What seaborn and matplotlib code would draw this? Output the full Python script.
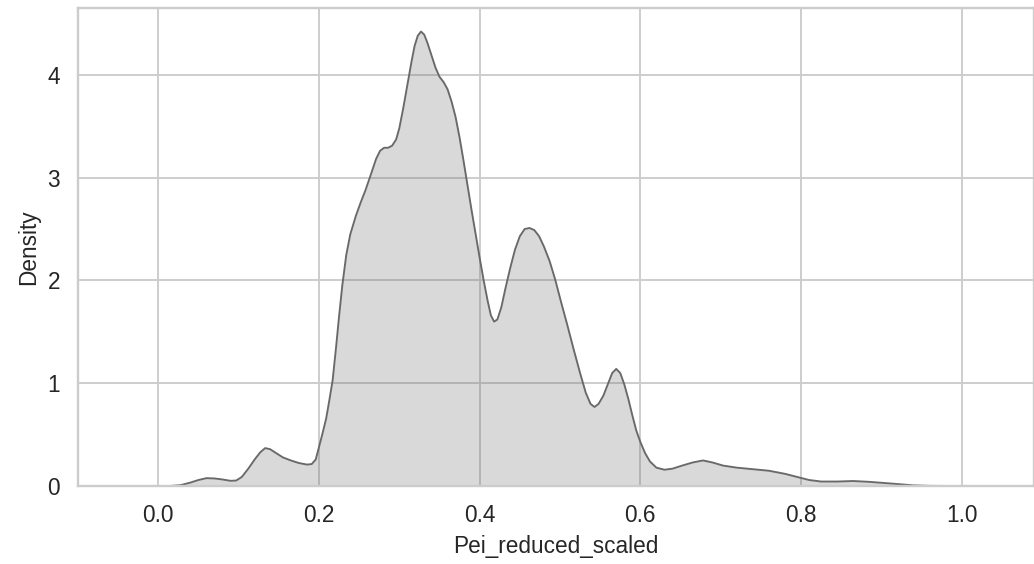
import matplotlib
matplotlib.use("Agg")
import matplotlib.pyplot as plt
import seaborn as sns
import pandas as pd

# density curve (x value, density)
pei_x = [-0.100, 0.000, 0.015, 0.028, 0.040, 0.050, 0.060, 0.070, 0.080, 0.090,
         0.097, 0.104, 0.112, 0.120, 0.127, 0.133, 0.139, 0.147, 0.155, 0.165,
         0.175, 0.185, 0.191, 0.196, 0.200, 0.204, 0.209, 0.213, 0.217, 0.221,
         0.225, 0.229, 0.234, 0.239, 0.246, 0.252, 0.258, 0.265, 0.271, 0.276,
         0.281, 0.286, 0.291, 0.296, 0.300, 0.305, 0.310, 0.315, 0.319, 0.323,
         0.327, 0.331, 0.335, 0.340, 0.345, 0.350, 0.355, 0.360, 0.365, 0.370,
         0.375, 0.380, 0.385, 0.390, 0.395, 0.400, 0.405, 0.410, 0.414, 0.418,
         0.422, 0.427, 0.432, 0.438, 0.444, 0.450, 0.456, 0.462, 0.468, 0.474,
         0.480, 0.487, 0.494, 0.501, 0.509, 0.517, 0.525, 0.532, 0.538, 0.543,
         0.548, 0.554, 0.560, 0.565, 0.570, 0.575, 0.580, 0.585, 0.590, 0.595,
         0.600, 0.606, 0.612, 0.620, 0.630, 0.640, 0.652, 0.665, 0.678, 0.690,
         0.703, 0.720, 0.740, 0.760, 0.780, 0.795, 0.810, 0.825, 0.845, 0.865,
         0.885, 0.905, 0.921, 0.940, 0.960, 1.000, 1.090]
density = [0.000, 0.000, 0.002, 0.010, 0.035, 0.060, 0.078, 0.075, 0.065, 0.052,
           0.055, 0.090, 0.170, 0.260, 0.330, 0.370, 0.360, 0.320, 0.280, 0.250,
           0.225, 0.210, 0.215, 0.260, 0.380, 0.500, 0.660, 0.840, 1.030, 1.330,
           1.650, 1.950, 2.250, 2.450, 2.630, 2.760, 2.880, 3.040, 3.180, 3.260,
           3.290, 3.290, 3.310, 3.370, 3.480, 3.680, 3.900, 4.120, 4.280, 4.380,
           4.420, 4.390, 4.310, 4.190, 4.070, 3.980, 3.930, 3.860, 3.740, 3.590,
           3.390, 3.160, 2.920, 2.680, 2.450, 2.220, 2.000, 1.800, 1.660, 1.600,
           1.620, 1.740, 1.920, 2.120, 2.300, 2.430, 2.500, 2.510, 2.490, 2.430,
           2.330, 2.190, 2.010, 1.800, 1.570, 1.330, 1.100, 0.910, 0.800, 0.770,
           0.800, 0.880, 1.000, 1.100, 1.140, 1.100, 0.990, 0.850, 0.690, 0.540,
           0.430, 0.320, 0.240, 0.180, 0.160, 0.170, 0.200, 0.230, 0.250, 0.230,
           0.200, 0.180, 0.165, 0.150, 0.120, 0.090, 0.060, 0.045, 0.045, 0.050,
           0.042, 0.030, 0.020, 0.008, 0.003, 0.001, 0.000]

df = pd.DataFrame({'Pei_reduced_scaled': pei_x, 'Density': density})

sns.set_theme(style="whitegrid")
plt.rcParams['font.family'] = ['Liberation Sans', 'DejaVu Sans']

dpi = 136
fig, ax = plt.subplots(figsize=(1034 / dpi, 564 / dpi), dpi=dpi)
fig.subplots_adjust(left=0.0754, right=1.0, top=0.986, bottom=0.138)

line_color = 'dimgray'
ax.fill_between(df['Pei_reduced_scaled'], df['Density'], color=line_color, alpha=0.25, linewidth=0)
sns.lineplot(data=df, x='Pei_reduced_scaled', y='Density', color=line_color, linewidth=1.0, ax=ax)

ax.set_xlim(-0.1, 1.09)
ax.set_ylim(0, 4.65)
ax.set_xticks([0.0, 0.2, 0.4, 0.6, 0.8, 1.0])
ax.set_yticks([0, 1, 2, 3, 4])
ax.tick_params(labelsize=12)
ax.set_xlabel('Pei_reduced_scaled')
ax.set_ylabel('Density')

fig.savefig('out.png', dpi=dpi)
